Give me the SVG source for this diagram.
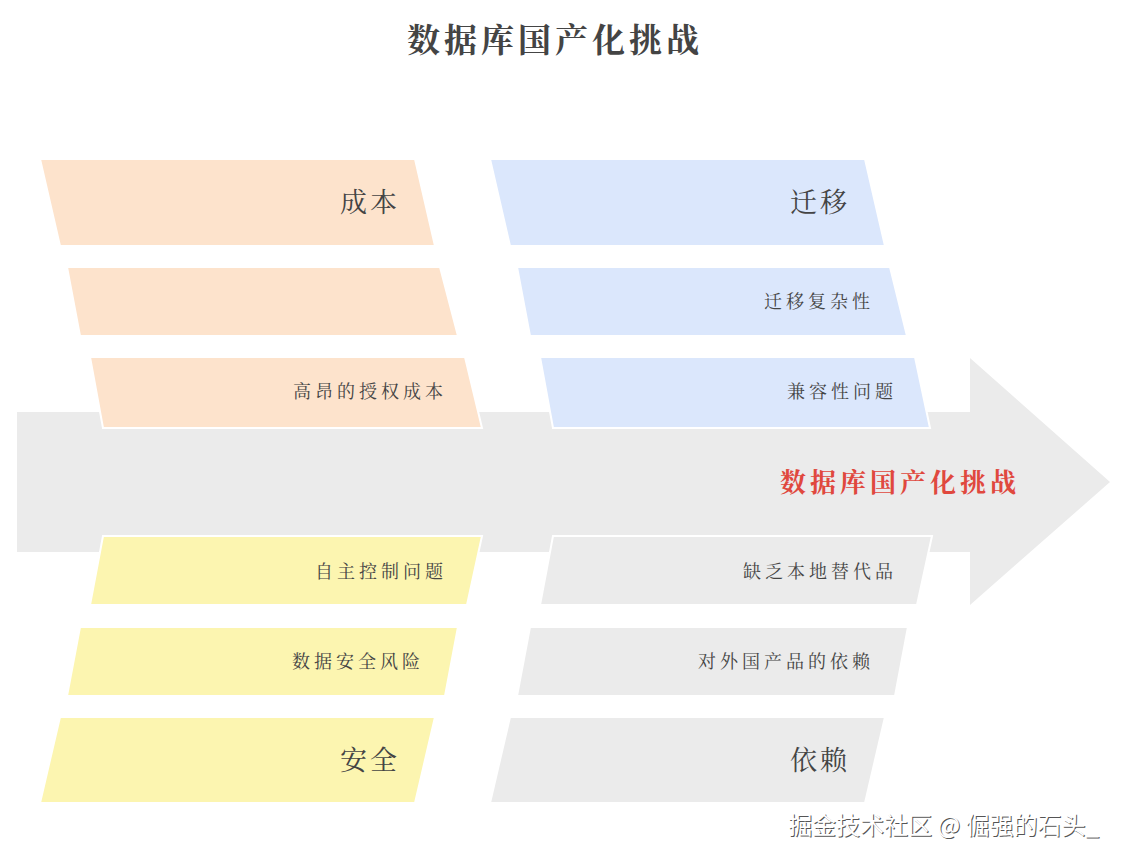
<svg xmlns="http://www.w3.org/2000/svg" width="1122" height="861" viewBox="0 0 1122 861">
<style>
text{font-family:"Noto Serif CJK SC","Noto Sans CJK SC",serif;fill:#444;}
.big{font-size:27px;text-anchor:middle;letter-spacing:3px}
.sm{font-size:18px;text-anchor:end;letter-spacing:4px}
.o{fill:#fde3cc;stroke:#fff;stroke-width:2}
.b{fill:#dbe7fc;stroke:#fff;stroke-width:2}
.y{fill:#fcf5b0;stroke:#fff;stroke-width:2}
.g{fill:#ebebeb;stroke:#fff;stroke-width:2}
.wm{font-family:'Noto Sans CJK SC',sans-serif;font-size:24px;text-anchor:end}
</style>
<rect width="1122" height="861" fill="#fff"/>
<text x="555" y="52" class="big" style="font-size:33px;font-weight:bold;letter-spacing:4px">数据库国产化挑战</text>
<g id="spine">
<polygon points="17,412 970,412 970,358 1110,482 970,605 970,552 17,552" fill="#ebebeb"/>
<text x="900" y="492" style="font-size:26px;font-weight:bold;fill:#e0483e;text-anchor:middle;letter-spacing:4px">数据库国产化挑战</text>
</g>
<g id="connectors"></g>
<g id="cost"><polygon class="o" points="40,159 415,159 435,246 60,246"/><text x="370" y="212" class="big">成本</text></g>
<g id="cost1"><polygon class="o" points="67,267 440,267 458,336 80,336"/></g>
<g id="cost2"><polygon class="o" points="90,357 465,357 482,428 103,428"/><text x="447" y="398" class="sm">高昂的授权成本</text></g>
<g id="mig"><polygon class="b" points="490,159 865,159 885,246 510,246"/><text x="820" y="212" class="big">迁移</text></g>
<g id="mig1"><polygon class="b" points="517,267 890,267 907,336 530,336"/><text x="874" y="308" class="sm">迁移复杂性</text></g>
<g id="mig2"><polygon class="b" points="540,357 915,357 930,428 553,428"/><text x="897" y="398" class="sm">兼容性问题</text></g>
<g id="sec1"><polygon class="y" points="103,536 482,536 467,605 90,605"/><text x="447" y="578" class="sm">自主控制问题</text></g>
<g id="sec2"><polygon class="y" points="80,627 458,627 445,696 67,696"/><text x="424" y="668" class="sm">数据安全风险</text></g>
<g id="sec"><polygon class="y" points="60,717 435,717 415,803 40,803"/><text x="370" y="770" class="big">安全</text></g>
<g id="dep1"><polygon class="g" points="553,536 932,536 917,605 540,605"/><text x="897" y="578" class="sm">缺乏本地替代品</text></g>
<g id="dep2"><polygon class="g" points="530,627 908,627 895,696 517,696"/><text x="874" y="668" class="sm">对外国产品的依赖</text></g>
<g id="dep"><polygon class="g" points="510,717 885,717 865,803 490,803"/><text x="820" y="770" class="big">依赖</text></g>
<text x="1100" y="835" class="wm" style="fill:#555">掘金技术社区 @ 倔强的石头_</text>
<text x="1099" y="834" class="wm" style="fill:#fff">掘金技术社区 @ 倔强的石头_</text>
</svg>
